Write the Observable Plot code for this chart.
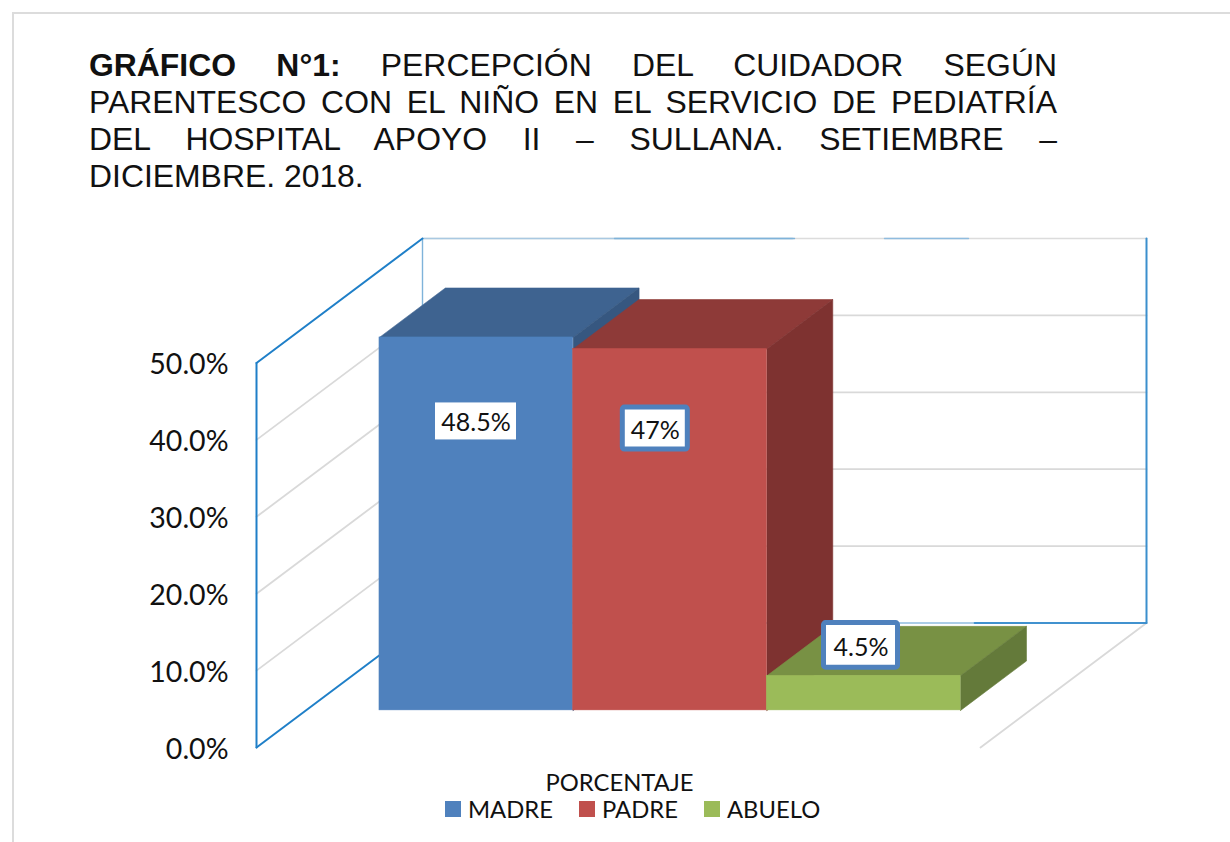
<!DOCTYPE html>
<html lang="es">
<head>
<meta charset="utf-8">
<script src="https://cdn.jsdelivr.net/npm/d3@7"></script>
<script src="https://cdn.jsdelivr.net/npm/@observablehq/plot@0.6"></script>
<style>
  html,body{margin:0;padding:0;background:#fff;width:1230px;height:842px;overflow:hidden}
  #frame{position:absolute;left:12px;top:12px;right:-5px;bottom:-5px;border:2px solid #dcdcdc;pointer-events:none}
  #title{position:absolute;left:89px;top:46.5px;width:968px;font:31.9px/37.3px "Liberation Sans",Arial,sans-serif;color:#111}
  #title div{text-align:justify;text-align-last:justify;white-space:nowrap}
  #title div:last-child{text-align-last:left}
  #chart{position:absolute;left:0;top:200px}
  #legend{position:absolute;left:0;top:795px;width:1230px;height:30px;font:23.8px "Lato",sans-serif;color:#111}
  #legend .sw{position:absolute;top:6px;width:16px;height:16px}
  #legend .tx{position:absolute;top:0;line-height:28px}
  svg text{font-family:"Lato",sans-serif}
</style>
</head>
<body>
<div id="frame"></div>
<div id="title">
  <div><b>GRÁFICO N°1:</b> PERCEPCIÓN DEL CUIDADOR SEGÚN</div>
  <div>PARENTESCO CON EL NIÑO EN EL SERVICIO DE PEDIATRÍA</div>
  <div>DEL HOSPITAL APOYO II – SULLANA. SETIEMBRE –</div>
  <div>DICIEMBRE. 2018.</div>
</div>
<div id="chart"></div>
<div id="legend"></div>
<script>
const categories = ["MADRE", "PADRE", "ABUELO"];
const values = [48.5, 47, 4.5];
const valueLabels = ["48.5%", "47%", "4.5%"];
const axisTicks = [0, 10, 20, 30, 40, 50];
const gridTicks = [10, 20, 30, 40];
const axisTitle = "PORCENTAJE";

const frontColors = ["#4F81BD", "#C0504D", "#9BBB59"];
const topColors = ["#3E6390", "#8E3A38", "#789144"];
const sideColors = ["#365780", "#7E3230", "#647A3A"];

// Oblique projection of the 3D plot box: x across, v up, d into the depth (0..1)
const boxW = 724, depthX = 166, pxPerUnit = 7.69, depthV = 124.5 / pxPerUnit;
const X = (x, d) => x + depthX * d;
const Y = (v, d) => v + depthV * d;
const P = (x, v, d) => ({x: X(x, d), y: Y(v, d)});

const barStart = 73.5, barW = 193.7, d0 = 0.298, d1 = 0.695;
const WALL = "#1f7fc8", GRID = "#d9d9d9";

const poly = (pts, color) => Plot.line([...pts, pts[0]], {x: "x", y: "y", fill: color, stroke: color, strokeWidth: 0.6});
const seg = (a, b, stroke, strokeWidth) => Plot.line([a, b], {x: "x", y: "y", stroke, strokeWidth});

const barMarks = categories.flatMap((c, i) => {
  const x0 = barStart + barW * i, x1 = x0 + barW, v = values[i];
  return [
    poly([P(x0, v, d0), P(x1, v, d0), P(x1, v, d1), P(x0, v, d1)], topColors[i]),
    poly([P(x1, 0, d0), P(x1, v, d0), P(x1, v, d1), P(x1, 0, d1)], sideColors[i]),
    Plot.rect([{c}], {x1: X(x0, d0), x2: X(x1, d0), y1: Y(0, d0), y2: Y(v, d0), fill: frontColors[i], stroke: frontColors[i], strokeWidth: 0.5})
  ];
});

// Label boxes: placed where the reference shows them (chart units), sized in px around the anchor
const labelSpots = [
  {x: 219.5, y: 42.4, w: 81, h: 37, border: false, textDy: 1.5},
  {x: 398.8, y: 41.47, w: 65, h: 42, border: true, textDy: 2.5},
  {x: 604.5, y: 13.28, w: 74, h: 44.6, border: true, textDy: 2.5}
];
const labelMarks = labelSpots.flatMap((s, i) => {
  const dy = s.h / 2 / pxPerUnit, dx = s.w / 2;
  return [
    Plot.rect([s], {
      x1: s.x - dx, x2: s.x + dx, y1: s.y - dy, y2: s.y + dy, fill: "#fff",
      stroke: s.border ? "#4F81BD" : "none", strokeWidth: s.border ? 5 : 0, rx: s.border ? 2 : 0
    }),
    Plot.text([s], {x: "x", y: "y", dy: s.textDy, text: () => valueLabels[i], fontSize: 25, fill: "#111", lineAnchor: "middle"})
  ];
});

const chart = Plot.plot({
  width: 1230,
  height: 595,
  marginLeft: 256,
  marginRight: 83,
  marginTop: 8.7,
  marginBottom: 48,
  x: {domain: [0, 891], axis: null},
  y: {domain: [0, 70], axis: null},
  marks: [
    // back wall
    ...gridTicks.map(v => seg(P(0, v, 1), P(boxW, v, 1), GRID, 1.8)),
    // side wall grid
    ...gridTicks.map(v => seg(P(0, v, 0), P(0, v, 1), GRID, 1.8)),
    // top edge of the back wall: grey with blue pieces
    seg(P(0, 50, 1), P(boxW, 50, 1), "#dcdcdc", 1.6),
    seg(P(0, 50, 1), P(370, 50, 1), "#a9c9e2", 1.4),
    seg(P(192, 50, 1), P(372, 50, 1), "#7fb3da", 1.4),
    seg(P(462, 50, 1), P(546, 50, 1), "#8fbcdf", 1.4),
    // floor edges
    seg(P(boxW, 0, 0), P(boxW, 0, 1), GRID, 1.8),
    seg(P(0, 0, 1), P(boxW, 0, 1), "#8fbcdf", 1.6),
    seg(P(552, 0, 1), P(boxW, 0, 1), WALL, 1.6),
    // verticals of the wall
    seg(P(0, 0, 1), P(0, 50, 1), "#7fb3da", 1.4),
    seg(P(boxW, 0, 1), P(boxW, 50, 1), "#3b8fcd", 2),
    // front-left wall outline
    seg(P(0, 50, 0), P(0, 50, 1), WALL, 2),
    seg(P(0, 0, 0), P(0, 0, 1), WALL, 2),
    seg(P(0, 0, 0), P(0, 50, 0), WALL, 2),
    ...barMarks,
    ...labelMarks,
    Plot.axisY({
      ticks: axisTicks, tickSize: 0, tickPadding: 28, anchor: "left", label: null, dy: 2,
      tickFormat: d => d.toFixed(1) + "%", fontSize: 28.5, fill: "#111"
    }),
    Plot.text([axisTitle], {
      x: [363], y: [0], text: d => d, dy: 36, fontSize: 23.8, fill: "#111", lineAnchor: "middle"
    })
  ],
  style: {background: "transparent", overflow: "visible", fontFamily: "Lato, sans-serif"}
});
document.getElementById("chart").append(chart);

const legendLeft = [445, 579, 704];
const legend = document.getElementById("legend");
categories.forEach((c, i) => {
  const sw = document.createElement("span");
  sw.className = "sw"; sw.style.left = legendLeft[i] + "px"; sw.style.background = frontColors[i];
  const tx = document.createElement("span");
  tx.className = "tx"; tx.style.left = (legendLeft[i] + 23) + "px"; tx.textContent = c;
  legend.append(sw, tx);
});
</script>
</body>
</html>
